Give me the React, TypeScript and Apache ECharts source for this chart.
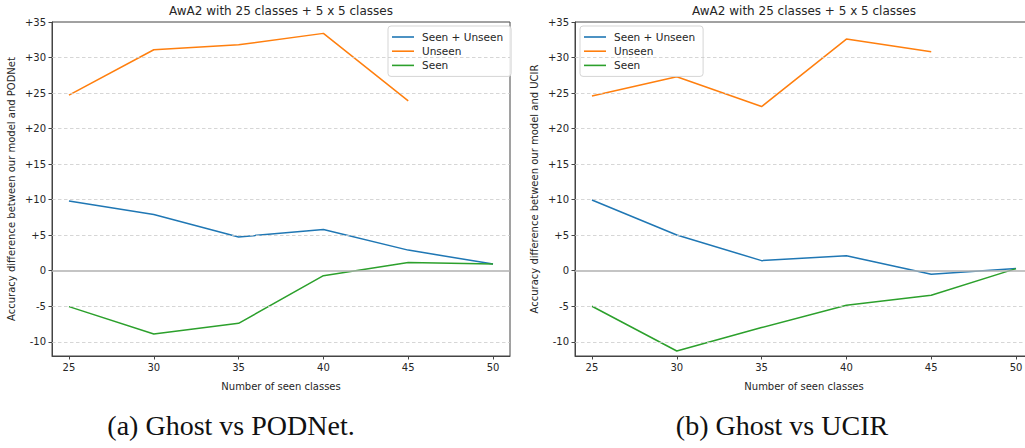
import React, { useEffect, useRef } from "react";
import * as echarts from "echarts";

const seenClasses = [25, 30, 35, 40, 45, 50];
const xTicks = [25, 30, 35, 40, 45, 50];
const yTicks = [-10, -5, 0, 5, 10, 15, 20, 25, 30, 35];
const gridValues = [-10, -5, 5, 10, 15, 20, 25, 30];

const podSeenUnseen = [9.8, 7.9, 4.75, 5.8, 2.9, 0.95];
const podUnseen = [24.7, 31.1, 31.8, 33.4, 23.9, null];
const podSeen = [-5.05, -8.9, -7.4, -0.7, 1.15, 0.95];

const ucirSeenUnseen = [9.96, 5.03, 1.42, 2.1, -0.5, 0.3];
const ucirUnseen = [24.6, 27.3, 23.1, 32.6, 30.8, null];
const ucirSeen = [-5.0, -11.3, -8.0, -4.87, -3.46, 0.3];

const seriesNames = ["Seen + Unseen", "Unseen", "Seen"];
const colors = ["#1f77b4", "#ff7f0e", "#2ca02c"];
const titleText = "AwA2 with 25 classes + 5 x 5 classes";
const yNames = [
  "Accuracy difference between our model and PODNet",
  "Accuracy difference between our model and UCIR",
];
const xName = "Number of seen classes";
const captions = ["(a) Ghost vs PODNet.", "(b) Ghost vs UCIR"];

const FONT = "DejaVu Sans";
const CANVAS_W = 1045;
const gridLefts = [52, 575];
const GRID_W = 458;
const GRID_TOP = 22;
const GRID_BOTTOM = 92;

function pairs(vals: (number | null)[]) {
  return seenClasses.map((x, i) => [x, vals[i] === null ? null : vals[i]]);
}

export default function App() {
  const ref = useRef<HTMLDivElement>(null);
  useEffect(() => {
    if (!ref.current) return;
    const chart = echarts.init(ref.current, undefined, { renderer: "svg" });
    const datasets = [
      [podSeenUnseen, podUnseen, podSeen],
      [ucirSeenUnseen, ucirUnseen, ucirSeen],
    ];
    const series: any[] = [];
    [0, 1].forEach((g) => {
      series.push({
        type: "line",
        xAxisIndex: g,
        yAxisIndex: g,
        data: [],
        z: 1,
        silent: true,
        markLine: {
          silent: true,
          symbol: "none",
          label: { show: false },
          animation: false,
          data: [
            ...gridValues.map((v) => ({
              yAxis: v,
              lineStyle: { color: "#cccccc", width: 0.8, type: [3.5, 2.5] },
            })),
            { yAxis: 0, lineStyle: { color: "#b0b0b0", width: 1.6, type: "solid" } },
          ],
        },
      });
      datasets[g].forEach((vals, i) => {
        series.push({
          type: "line",
          name: seriesNames[i],
          xAxisIndex: g,
          yAxisIndex: g,
          data: pairs(vals),
          symbol: "none",
          z: 3,
          connectNulls: false,
          lineStyle: { color: colors[i], width: 1.5 },
          itemStyle: { color: colors[i] },
        });
      });
    });

    const mkX = (g: number) => ({
      type: "value",
      gridIndex: g,
      min: 24,
      max: 51,
      name: xName,
      nameLocation: "middle",
      nameGap: 25,
      nameTextStyle: { fontFamily: FONT, fontSize: 10, color: "#262626" },
      axisLine: { show: true, onZero: false, lineStyle: { color: "#444", width: 1 } },
      axisTick: { show: true, length: 3.5, lineStyle: { color: "#444" }, customValues: xTicks },
      axisLabel: {
        show: true,
        customValues: xTicks,
        fontFamily: FONT,
        fontSize: 10,
        color: "#262626",
        margin: 6,
      },
      splitLine: { show: false },
    });
    const mkY = (g: number) => ({
      type: "value",
      gridIndex: g,
      min: -12,
      max: 35,
      name: yNames[g],
      nameLocation: "middle",
      nameRotate: 90,
      nameGap: 36,
      nameTextStyle: { fontFamily: FONT, fontSize: 10, color: "#262626" },
      axisLine: { show: true, onZero: false, lineStyle: { color: "#444", width: 1 } },
      axisTick: { show: true, length: 3.5, lineStyle: { color: "#444" }, customValues: yTicks },
      axisLabel: {
        show: true,
        customValues: yTicks,
        fontFamily: FONT,
        fontSize: 10,
        color: "#262626",
        margin: 6,
        formatter: (v: number) => (v > 0 ? "+" + v : "" + v),
      },
      splitLine: { show: false },
    });

    const legends = [0, 1].map((g) => ({
      orient: "vertical",
      left: g === 0 ? 388 : 580,
      top: 26,
      data: seriesNames,
      icon: "rect",
      itemWidth: 22,
      itemHeight: 1.6,
      itemGap: 2.2,
      padding: [5, 8, 5, 4],
      borderColor: "#d5d5d5",
      borderWidth: 1,
      borderRadius: 3,
      backgroundColor: "rgba(255,255,255,0.85)",
      selectedMode: false,
      textStyle: {
        fontFamily: FONT,
        fontSize: 10.5,
        lineHeight: 12,
        color: "#262626",
        padding: [0, 0, 0, 3],
      },
    }));

    const graphics: any[] = [];
    [0, 1].forEach((g) => {
      graphics.push({
        type: "text",
        x: gridLefts[g] + GRID_W / 2,
        y: 11,
        style: {
          text: titleText,
          fontFamily: FONT,
          fontSize: 12,
          fill: "#262626",
          align: "center",
          verticalAlign: "middle",
          textAlign: "center",
          textVerticalAlign: "middle",
        },
      });
      graphics.push({
        type: "text",
        x: g === 0 ? 231 : 782,
        y: 425,
        style: {
          text: captions[g],
          fontFamily: "Liberation Serif",
          fontSize: 28,
          fill: "#111",
          align: "center",
          verticalAlign: "middle",
          textAlign: "center",
          textVerticalAlign: "middle",
        },
      });
    });

    chart.setOption({
      animation: false,
      backgroundColor: "#ffffff",
      grid: [0, 1].map((g) => ({
        left: gridLefts[g],
        right: CANVAS_W - gridLefts[g] - GRID_W,
        top: GRID_TOP,
        bottom: GRID_BOTTOM,
        show: true,
        borderColor: "#444",
        borderWidth: 1,
        backgroundColor: "transparent",
        containLabel: false,
      })),
      xAxis: [mkX(0), mkX(1)],
      yAxis: [mkY(0), mkY(1)],
      legend: legends,
      series,
      graphic: graphics,
    });
    return () => chart.dispose();
  }, []);
  return (
    <div
      style={{
        position: "absolute",
        left: 0,
        top: 0,
        width: 1025,
        height: 448,
        overflow: "hidden",
        background: "#fff",
      }}
    >
      <div ref={ref} style={{ width: CANVAS_W, height: 448 }} />
    </div>
  );
}
